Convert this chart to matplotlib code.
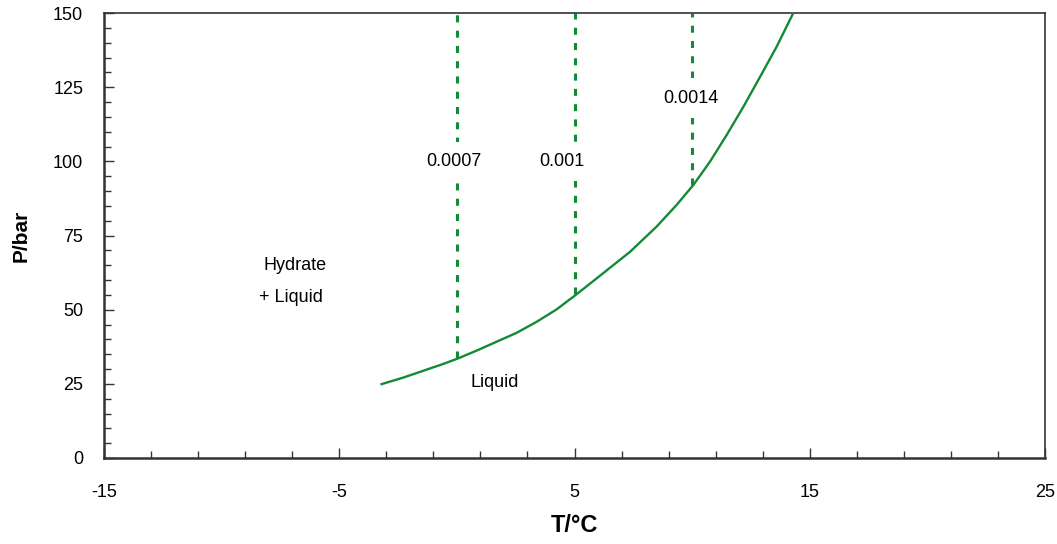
import matplotlib.pyplot as plt
from matplotlib.ticker import MultipleLocator, FixedLocator

plt.rcParams['font.family'] = ['Liberation Sans', 'DejaVu Sans']
plt.rcParams['axes.unicode_minus'] = False

# hydrate equilibrium curve
T_curve = [-3.20, -2.28, -1.43, -0.58, 0.06, 0.84, 1.69, 2.54, 3.39, 4.24, 5.09,
           6.22, 7.36, 8.49, 9.34, 10.05, 10.76, 11.47, 12.18, 12.89, 13.59, 14.30]
P_curve = [24.9, 27.1, 29.4, 31.7, 33.6, 36.2, 39.2, 42.2, 45.9, 50.1, 55.2,
           62.3, 69.5, 78.0, 85.3, 92.0, 99.9, 108.9, 118.4, 128.5, 138.6, 150.0]

# vertical dotted lines: temperature, start pressure, label, label position
line_T = [0, 5, 10]
line_P0 = [33.6, 55.2, 92.0]
line_labels = ['0.0007', '0.001', '0.0014']
label_xy = [(-0.12, 100), (4.47, 100), (9.95, 121.3)]

green = '#138a36'

fig = plt.figure(figsize=(10.57, 5.44), dpi=100)
ax = fig.add_axes([104/1057, 86/544, 941/1057, 445/544])

ax.plot(T_curve, P_curve, color=green, lw=1.7, zorder=3)
for t, p0 in zip(line_T, line_P0):
    ax.plot([t, t], [p0, 150], color=green, lw=2.2, dashes=(2.3, 2.7), zorder=2)
for lab, (x, y) in zip(line_labels, label_xy):
    ax.text(x, y, lab, ha='center', va='center', fontsize=13, zorder=4,
            bbox=dict(facecolor='white', edgecolor='none', pad=8))

ax.text(-6.88, 65, 'Hydrate', ha='center', va='center', fontsize=13)
ax.text(-7.05, 54, '+ Liquid', ha='center', va='center', fontsize=13)
ax.text(1.62, 25.3, 'Liquid', ha='center', va='center', fontsize=13)

ax.set_xlim(-15, 25)
ax.set_ylim(0, 150)
ax.xaxis.set_major_locator(FixedLocator([-15, -5, 5, 15, 25]))
ax.xaxis.set_minor_locator(MultipleLocator(2, offset=1))
ax.yaxis.set_major_locator(MultipleLocator(25))
ax.yaxis.set_minor_locator(MultipleLocator(5))

ax.tick_params(which='both', direction='in', width=1, color='#333333')
ax.tick_params(which='major', length=7)
ax.tick_params(which='minor', length=5)
ax.tick_params(axis='x', which='major', pad=19, labelsize=13)
ax.tick_params(axis='y', which='major', pad=15, labelsize=13)

for s in ax.spines.values():
    s.set_color('#333333')
    s.set_linewidth(1.2)
ax.spines['left'].set_linewidth(1.8)
ax.spines['bottom'].set_linewidth(1.8)

ax.set_xlabel('T/°C', fontsize=17, fontweight='bold')
ax.set_ylabel('P/bar', fontsize=15, fontweight='bold')
ax.xaxis.set_label_coords(0.5, -0.125)
ax.yaxis.set_label_coords(-0.078, 0.5)

fig.savefig('out.png', dpi=100)
